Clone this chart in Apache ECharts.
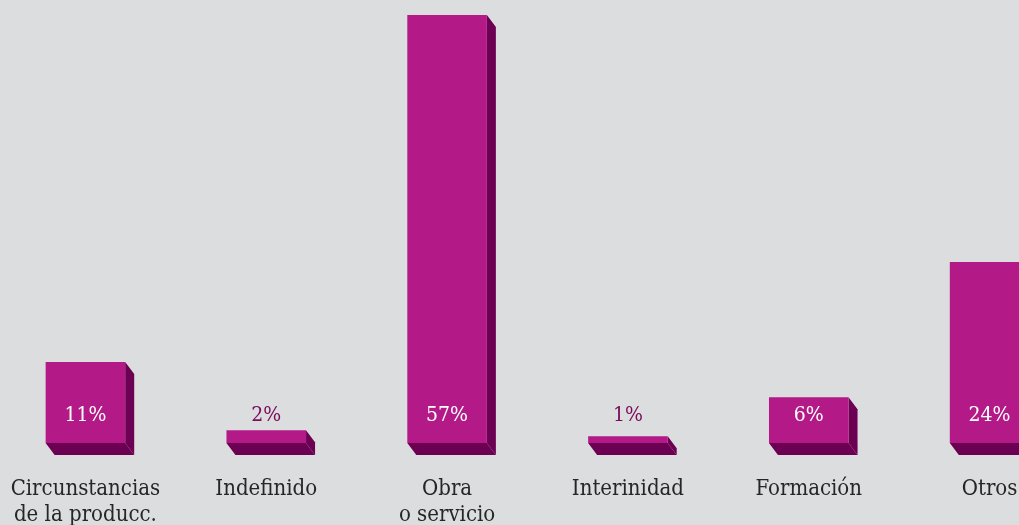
<!DOCTYPE html>
<html>
<head>
<meta charset="utf-8">
<script src="https://cdn.jsdelivr.net/npm/echarts@6/dist/echarts.min.js"></script>
<style>
html,body{margin:0;padding:0;background:#dcdddf;}
#chart{width:1019px;height:525px;}
</style>
</head>
<body>
<div id="chart"></div>
<script>
const categories = ['Circunstancias\nde la producc.', 'Indefinido', 'Obra\no servicio', 'Interinidad', 'Formación', 'Otros'];
const values = [10.8, 1.7, 57, 0.9, 6.1, 24.1];
const valueLabels = ['11%', '2%', '57%', '1%', '6%', '24%'];

const FRONT = '#b31a87';
const DARK = '#6c0052';
const FONT = '"DejaVu Serif Condensed", "DejaVu Serif", serif';

const chart = echarts.init(document.getElementById('chart'), null, {renderer: 'canvas'});
chart.setOption({
  backgroundColor: '#dcdddf',
  animation: false,
  grid: {left: -5, width: 1085, top: 0, height: 443, containLabel: false, outerBoundsMode: 'none'},
  xAxis: {
    type: 'category',
    data: categories,
    axisLine: {show: false},
    axisTick: {show: false},
    axisLabel: {
      margin: 33,
      color: '#262626',
      fontFamily: FONT,
      fontSize: 22,
      lineHeight: 26,
      interval: 0,
      hideOverlap: false
    }
  },
  yAxis: {
    type: 'value',
    min: 0,
    max: 59,
    show: false,
    splitLine: {show: false}
  },
  series: [{
    type: 'custom',
    clip: false,
    data: values.map((v, i) => [i, v]),
    renderItem: function (params, api) {
      const i = api.value(0);
      const base = api.coord([i, 0]);
      const top = api.coord([i, api.value(1)]);
      const bw = api.size([1, 0])[0] * 0.44;
      const x0 = base[0] - bw / 2;
      const x1 = x0 + bw;
      const dx = 9, dy = 12;
      const h = base[1] - top[1];
      const inside = h > 40;
      return {
        type: 'group',
        children: [
          {type: 'polygon', shape: {points: [[x1, top[1]], [x1 + dx, top[1] + dy], [x1 + dx, base[1] + dy], [x1, base[1]]]}, style: {fill: DARK}},
          {type: 'polygon', shape: {points: [[x0, base[1]], [x1, base[1]], [x1 + dx, base[1] + dy], [x0 + dx, base[1] + dy]]}, style: {fill: DARK}},
          {type: 'rect', shape: {x: x0, y: top[1], width: bw, height: h}, style: {fill: FRONT}},
          {type: 'text', style: {
            text: valueLabels[params.dataIndex],
            x: base[0], y: base[1] - 27,
            align: 'center', verticalAlign: 'middle',
            fill: inside ? '#ffffff' : '#7a0b5c',
            font: '21px ' + FONT
          }}
        ]
      };
    }
  }]
});
</script>
</body>
</html>
